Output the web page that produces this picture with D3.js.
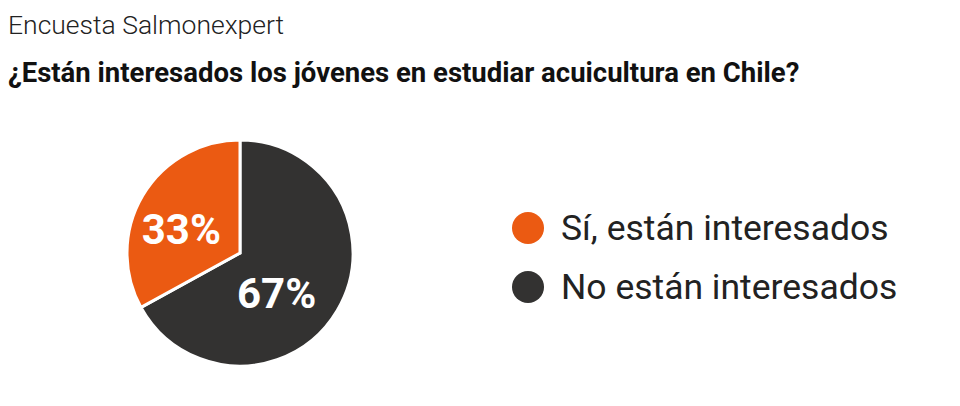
<!DOCTYPE html>
<html><head><meta charset="utf-8">
<script src="https://cdn.jsdelivr.net/npm/d3@7"></script>
<style>body{margin:0;background:#fff}</style>
</head><body>
<svg id="c" width="960" height="406"></svg>
<script>
const categories = ["No están interesados", "Sí, están interesados"];
const values = [67, 33];
const colors = ["#333231", "#eb5a12"];
const legendOrder = [1, 0];

const svg = d3.select("#c");
svg.append("text").attr("x", 8).attr("y", 34).attr("font-family", "Roboto").attr("font-weight", 300)
  .attr("font-size", 26.5).attr("fill", "#222").text("Encuesta Salmonexpert");
svg.append("text").attr("x", 8).attr("y", 82).attr("font-family", "Roboto").attr("font-weight", 700)
  .attr("font-size", 27.5).attr("fill", "#111").text("¿Están interesados los jóvenes en estudiar acuicultura en Chile?");

const cx = 240, cy = 253, r = 113;
const pie = d3.pie().sort(null).value(d => d)(values);
const arc = d3.arc().innerRadius(0).outerRadius(r);
const g = svg.append("g").attr("transform", `translate(${cx},${cy})`);
g.selectAll("path").data(pie).join("path").attr("d", arc)
  .attr("fill", (d, i) => colors[i]).attr("stroke", "#fff").attr("stroke-width", 3);
const la = d3.arc().innerRadius(r * 0.5).outerRadius(r * 0.5);
const adj = [[-12, 11], [-10, 5]];
g.selectAll("text").data(pie).join("text")
  .attr("transform", (d, i) => { const c = la.centroid(d); return `translate(${c[0]+adj[i][0]},${c[1]+adj[i][1]})`; })
  .attr("text-anchor", "middle").attr("dy", "0.36em").attr("font-family", "Roboto").attr("font-weight", 700)
  .attr("font-size", 42).attr("fill", "#fff").text(d => d.value + "%");

const lg = svg.append("g");
legendOrder.forEach((k, j) => {
  const y = 228 + j * 59;
  lg.append("circle").attr("cx", 528).attr("cy", y).attr("r", 16).attr("fill", colors[k]);
  lg.append("text").attr("x", 561).attr("y", y).attr("dy", "0.35em").attr("font-family", "Roboto")
    .attr("font-size", 35.5).attr("fill", "#222").text(categories[k]);
});
</script>
</body></html>
